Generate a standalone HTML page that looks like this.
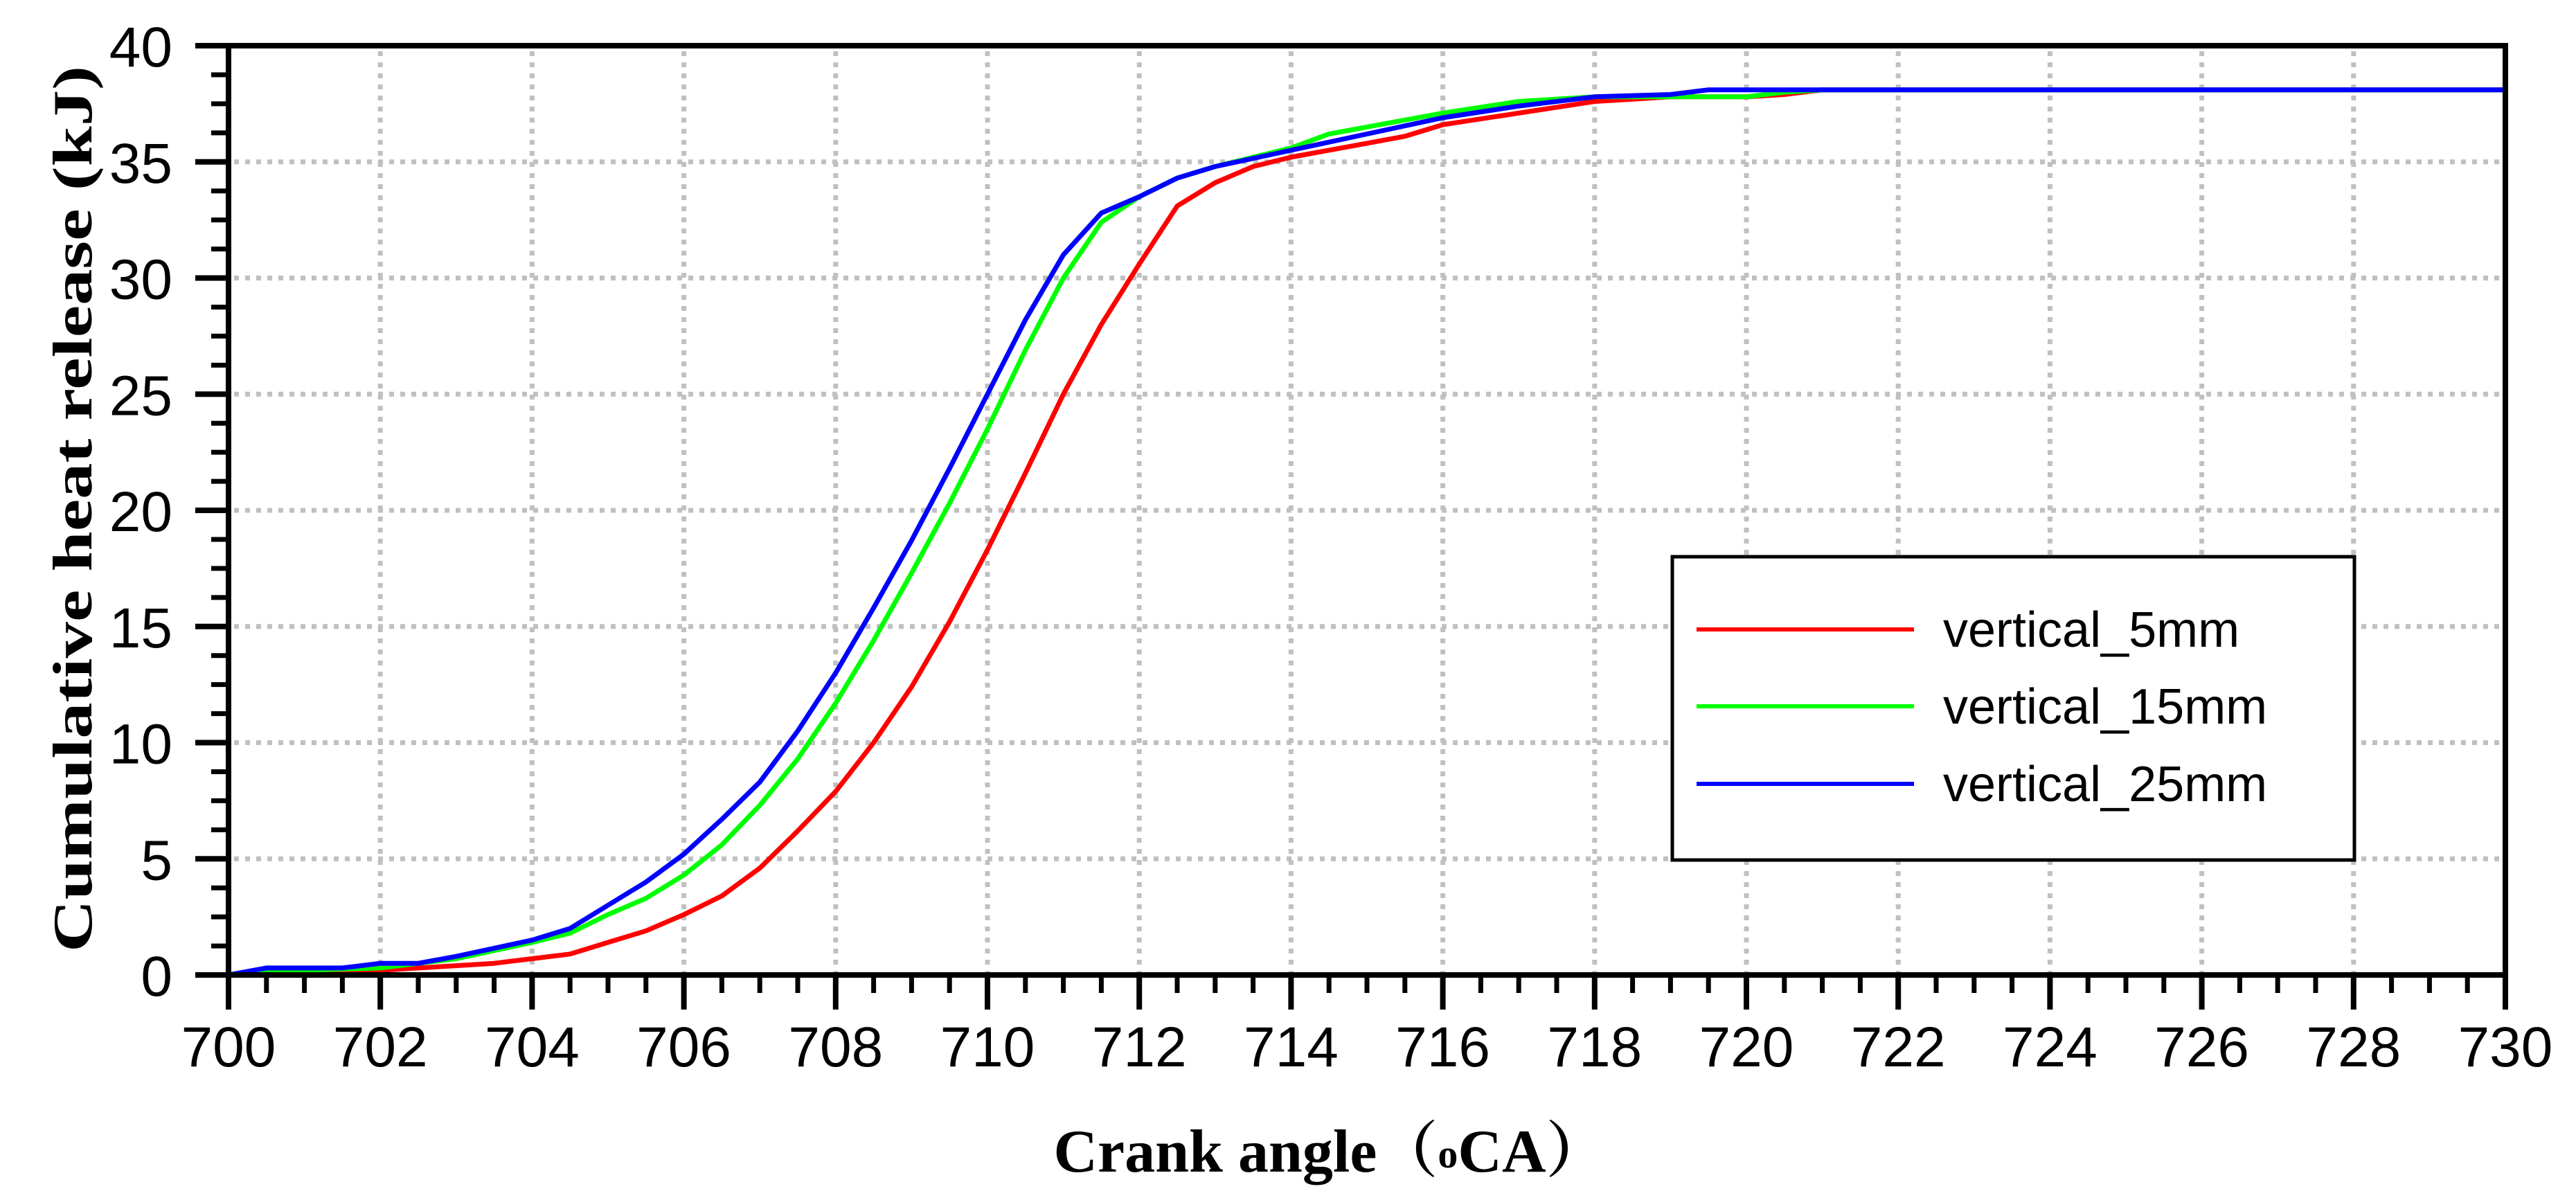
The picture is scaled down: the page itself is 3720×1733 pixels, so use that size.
<!DOCTYPE html>
<html><head><meta charset="utf-8"><style>
html,body{margin:0;padding:0;background:#fff;}
svg{display:block;}
</style></head><body>
<svg id="chart" xmlns="http://www.w3.org/2000/svg" width="3720" height="1733" viewBox="0 0 3720 1733">
<rect x="0" y="0" width="3720" height="1733" fill="#fff"/>
<g id="grid"></g>
<g id="series"></g>
<g id="axes"></g>
<text x="0" y="0" transform="translate(132,735) rotate(-90)" text-anchor="middle" font-family="Liberation Serif, serif" font-weight="bold" font-size="80" textLength="1280" lengthAdjust="spacingAndGlyphs">Cumulative heat release (kJ)</text>
<text x="1921" y="1692" text-anchor="middle" font-family="Liberation Serif, 'Noto Serif CJK SC', serif" font-weight="bold" font-size="88">Crank angle（<tspan font-size="58" dy="-6">o</tspan><tspan dy="6">CA）</tspan></text>
<g>
<rect x="2415" y="804" width="985" height="438" fill="#fff" stroke="#000" stroke-width="5"/>
<line x1="2450" y1="909" x2="2764" y2="909" stroke="#ff0000" stroke-width="6"/>
<text x="2806" y="934" font-family="Liberation Sans, sans-serif" font-size="72">vertical_5mm</text>
<line x1="2450" y1="1020" x2="2764" y2="1020" stroke="#00ff00" stroke-width="6"/>
<text x="2806" y="1045" font-family="Liberation Sans, sans-serif" font-size="72">vertical_15mm</text>
<line x1="2450" y1="1132" x2="2764" y2="1132" stroke="#0000ff" stroke-width="6"/>
<text x="2806" y="1157" font-family="Liberation Sans, sans-serif" font-size="72">vertical_25mm</text>
</g>
</svg>
<script>
const xTicks = [700,702,704,706,708,710,712,714,716,718,720,722,724,726,728,730];
const yTicks = [0,5,10,15,20,25,30,35,40];
const redX = [700,701,702,703,703.5,704,704.5,705,705.5,706,706.5,707,707.5,708,708.5,709,709.5,710,710.5,711,711.5,712,712.5,713,713.5,714,715,715.5,716,717,718,718.5,719,720,720.5,721,730];
const redY = [0,0.1,0.2,0.4,0.5,0.7,0.9,1.4,1.9,2.6,3.4,4.6,6.2,7.9,10.0,12.4,15.2,18.3,21.6,25.0,28.0,30.6,33.1,34.1,34.8,35.2,35.8,36.1,36.6,37.1,37.6,37.7,37.8,37.8,37.9,38.1,38.1];
const greenX = [700,700.5,701,702,702.5,703,704,704.5,705,705.5,706,706.5,707,707.5,708,708.5,709,709.5,710,710.5,711,711.5,712,712.5,713,714,714.5,715,716,717,718,719,720,720.5,721,730];
const greenY = [0,0.1,0.2,0.3,0.5,0.7,1.4,1.8,2.6,3.3,4.3,5.6,7.3,9.3,11.7,14.4,17.3,20.3,23.5,26.9,30.0,32.4,33.5,34.3,34.8,35.6,36.2,36.5,37.1,37.6,37.8,37.8,37.8,38.0,38.1,38.1];
const blueX = [700,700.5,701.5,702,702.5,703,704,704.5,705,705.5,706,706.5,707,707.5,708,708.5,709,709.5,710,710.5,711,711.5,712,712.5,713,714,715,716,717,718,719,719.5,730];
const blueY = [0,0.3,0.3,0.5,0.5,0.8,1.5,2,3,4,5.2,6.7,8.3,10.5,13,15.8,18.7,21.8,25,28.2,31,32.8,33.5,34.3,34.8,35.5,36.2,36.9,37.4,37.8,37.9,38.1,38.1];

const NS='http://www.w3.org/2000/svg';
const L=330,R=3618,T=66,B=1408;
const sx=v=>L+(v-700)/30*(R-L);
const sy=v=>B-v/40*(B-T);
function mk(tag,attrs,parent){const e=document.createElementNS(NS,tag);for(const k in attrs)e.setAttribute(k,attrs[k]);parent.appendChild(e);return e;}
const grid=document.getElementById('grid'),axes=document.getElementById('axes'),ser=document.getElementById('series');
xTicks.forEach(v=>{if(v===700||v===730)return;
 const g=mk('line',{x1:sx(v),x2:sx(v),y1:T+8,y2:B-4,stroke:'#c0c0c0','stroke-width':7,'stroke-dasharray':'7 9'},grid);
 
 });
yTicks.forEach(v=>{if(v===0||v===40)return;
 const g=mk('line',{x1:L+8,x2:R-4,y1:sy(v),y2:sy(v),stroke:'#c0c0c0','stroke-width':7,'stroke-dasharray':'7 9'},grid);
 
 });
[[redX,redY,'#ff0000','series-vertical-5mm'],[greenX,greenY,'#00ff00','series-vertical-15mm'],[blueX,blueY,'#0000ff','series-vertical-25mm']].forEach(([xs,ys,c,n])=>{
 const d=xs.map((x,i)=>(i?'L':'M')+sx(x).toFixed(1)+','+sy(ys[i]).toFixed(1)).join(' ');
 const p=mk('path',{d:d,fill:'none',stroke:c,'stroke-width':7,'stroke-linejoin':'round'},ser);
 
 });
const frame=mk('rect',{x:L,y:T,width:R-L,height:B-T,fill:'none',stroke:'#000','stroke-width':8},axes);


for(let v=700;v<=730.001;v+=0.5){const maj=Math.abs(v/2-Math.round(v/2))<1e-6;
 const t=mk('line',{x1:sx(v),x2:sx(v),y1:B,y2:B+(maj?50:26),stroke:'#000','stroke-width':maj?8:7},axes);
 
 }
for(let v=0;v<=40.001;v+=1.25){const maj=Math.abs(v/5-Math.round(v/5))<1e-6;
 const t=mk('line',{x1:L-(maj?48:25),x2:L,y1:sy(v),y2:sy(v),stroke:'#000','stroke-width':maj?8:7},axes);
 
 }
xTicks.forEach(v=>{const t=mk('text',{x:sx(v),y:1540,'text-anchor':'middle','font-family':'Liberation Sans, sans-serif','font-size':82},axes);t.textContent=v;
 
 });
yTicks.forEach(v=>{const t=mk('text',{x:249,y:sy(v)+30,'text-anchor':'end','font-family':'Liberation Sans, sans-serif','font-size':82},axes);t.textContent=v;
 
 });
</script>
</body></html>
